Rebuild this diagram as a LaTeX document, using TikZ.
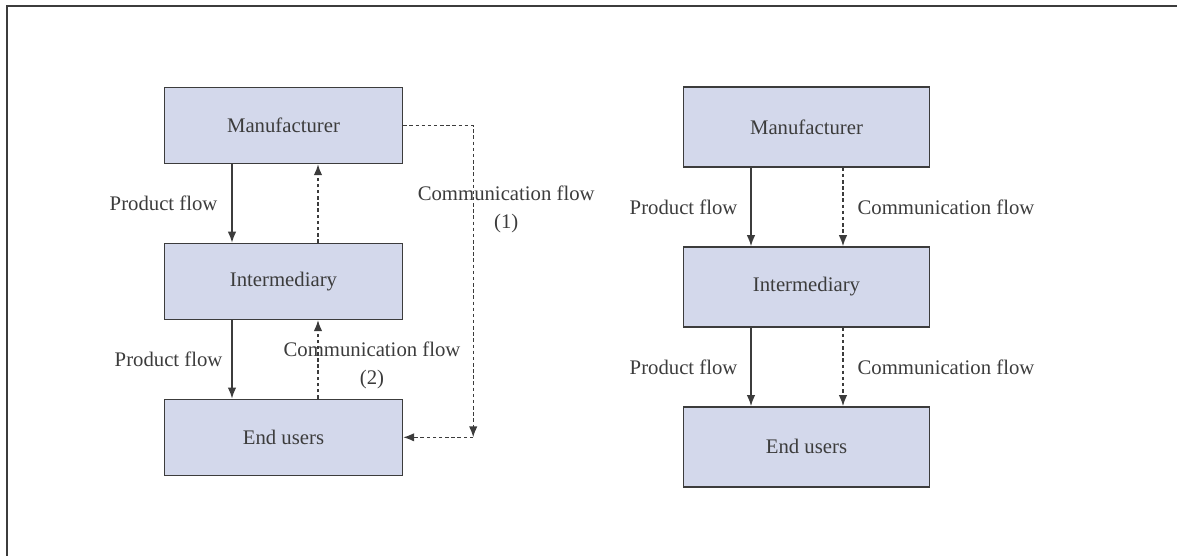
\documentclass[tikz,border=0pt]{standalone}
\usepackage{fontspec}
\setmainfont{Liberation Serif}
\usetikzlibrary{arrows.meta, positioning}

\definecolor{boxfill}{RGB}{211,216,235}
\definecolor{ink}{RGB}{60,60,60}
\newcommand{\flowfont}{\fontsize{11.8pt}{16pt}\selectfont}

\begin{document}
\begin{tikzpicture}[
  node distance=1.57cm,
  agent/.style={rectangle, draw=ink, fill=boxfill, line width=0.8pt, minimum width=4.76cm, minimum height=1.52cm, font=\flowfont, text=ink},
  agentwide/.style={agent, minimum width=4.92cm, minimum height=1.6cm},
  product/.style={-{Latex[length=2.2mm, width=1.7mm]}, draw=ink, line width=0.8pt},
  comm/.style={-{Latex[length=2.2mm, width=1.7mm]}, draw=ink, line width=0.8pt, dash pattern=on 2pt off 1.5pt},
  label/.style={font=\flowfont, text=ink},
  frame/.style={draw=ink, line width=1.2pt},
]

% Page and frame
\useasboundingbox (0,0) rectangle (23.54,-11.12);
\draw[frame] (0.14,-11.12) -- (0.14,-0.12) -- (23.54,-0.12);

% Left: indirect communication
\node[agent] (lman) at (5.67,-2.51) {Manufacturer};
\node[agent, below=of lman] (linter) {Intermediary};
\node[agent, below=of linter] (lend) {End users};

\draw[product] ([xshift=-1.03cm]lman.south) -- node[label, left=0.16cm] {Product flow} ([xshift=-1.03cm]linter.north);
\draw[product] ([xshift=-1.03cm]linter.south) -- node[label, left=0.06cm] {Product flow} ([xshift=-1.03cm]lend.north);
\draw[comm] ([xshift=0.69cm]linter.north) -- ([xshift=0.69cm]lman.south);
\draw[comm] ([xshift=0.69cm]lend.north) -- ([xshift=0.69cm]linter.south);

% Loop from manufacturer straight to end users
\coordinate (loop) at ([xshift=1.4cm]lend.east);
\draw[comm] (lman.east) -| (loop);
\draw[comm] (loop) -- (lend.east);

\node[label, align=center] (comm1) at ([xshift=2.06cm, yshift=-1.67cm]lman.east) {Communication flow\\(1)};
\node[label, align=center] (comm2) at ([xshift=1.77cm, yshift=0.66cm]lend.north) {Communication flow\\(2)};

% Right: direct communication
\node[agentwide] (rman) at (16.13,-2.54) {Manufacturer};
\node[agentwide, below=of rman] (rinter) {Intermediary};
\node[agentwide, below=of rinter] (rend) {End users};

\draw[product] ([xshift=-1.11cm]rman.south) -- node[label, left=0.14cm] {Product flow} ([xshift=-1.11cm]rinter.north);
\draw[product] ([xshift=-1.11cm]rinter.south) -- node[label, left=0.14cm] {Product flow} ([xshift=-1.11cm]rend.north);
\draw[comm] ([xshift=0.73cm]rman.south) -- node[label, right=0.16cm] {Communication flow} ([xshift=0.73cm]rinter.north);
\draw[comm] ([xshift=0.73cm]rinter.south) -- node[label, right=0.16cm] {Communication flow} ([xshift=0.73cm]rend.north);

\end{tikzpicture}
\end{document}
